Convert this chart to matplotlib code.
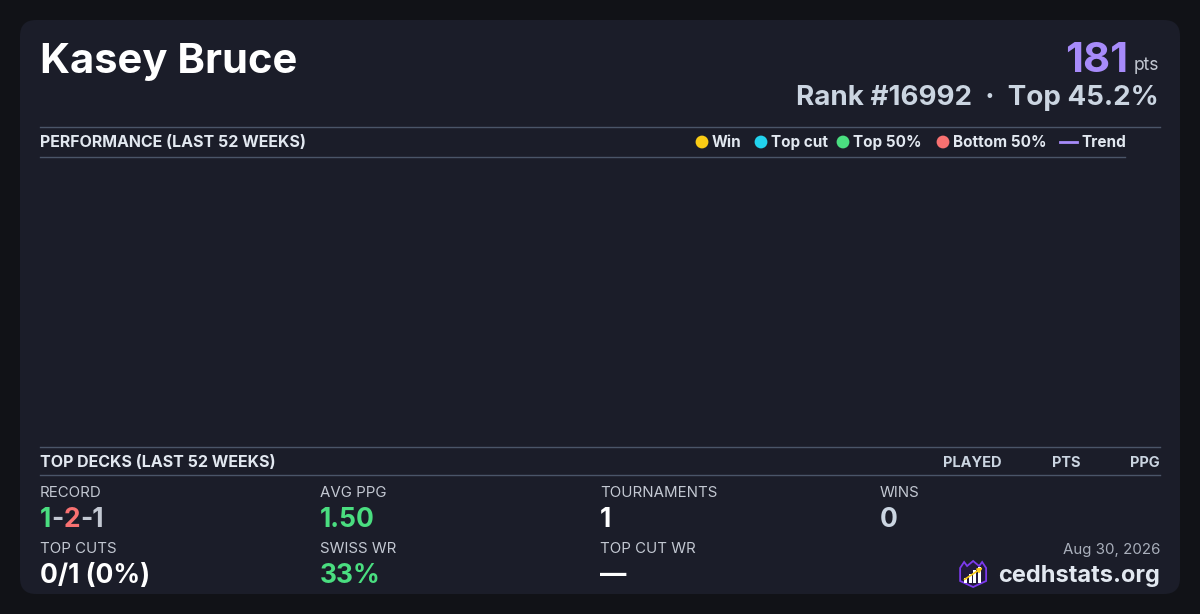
import matplotlib
matplotlib.use("Agg")
import matplotlib.pyplot as plt
from matplotlib.patches import FancyBboxPatch, Polygon, Rectangle

plt.rcParams['font.family'] = ['Inter', 'DejaVu Sans']

# --- data ---
player = "Kasey Bruce"
points = 181
rank = 16992
top_pct = 45.2
legend_labels = ["Win", "Top cut", "Top 50%", "Bottom 50%", "Trend"]
legend_colors = ["#facc15", "#22d3ee", "#4ade80", "#f87171", "#a78bfa"]
deck_columns = ["PLAYED", "PTS", "PPG"]
perf_weeks = []      # no tournaments plotted in the window
perf_points = []
record = [1, 2, 1]
stat_labels = ["RECORD", "AVG PPG", "TOURNAMENTS", "WINS",
               "TOP CUTS", "SWISS WR", "TOP CUT WR"]
stat_values = [None, "1.50", "1", "0", "0/1 (0%)", "33%", "\u2014"]
stat_colors = [None, "#4ade80", "#ffffff", "#cbd5e1", "#ffffff", "#4ade80", "#ffffff"]
date_str = "Aug 30, 2026"
site = "cedhstats.org"

BG = "#111217"
CARD = "#1b1d29"
RULE = "#4a5568"
LIGHT = "#e2e8f0"
MUTED = "#c3c8d2"

fig = plt.figure(figsize=(12, 6.14), dpi=100, facecolor=BG)
ax = fig.add_axes([0, 0, 1, 1])
ax.set_xlim(0, 1200)
ax.set_ylim(614, 0)
ax.set_axis_off()
ax.set_facecolor(BG)

card = FancyBboxPatch((20, 20), 1160, 574, boxstyle="round,pad=0,rounding_size=16",
                      fc=CARD, ec="none")
ax.add_patch(card)

fig.canvas.draw()
renderer = fig.canvas.get_renderer()


def width_px(t):
    bb = t.get_window_extent(renderer=renderer)
    return bb.width


def pieces(x, y, parts, size, weight="bold"):
    # draw consecutive coloured pieces of text left to right
    for s, c in parts:
        t = ax.text(x, y, s, color=c, fontsize=size, fontweight=weight,
                    ha="left", va="baseline")
        x += width_px(t)


# header
ax.text(40, 73, player, color="#ffffff", fontsize=30, fontweight="bold",
        ha="left", va="baseline")
pts = ax.text(1159, 70, "pts", color=MUTED, fontsize=12.5, ha="right", va="baseline")
ax.text(1159 - width_px(pts) - 5, 72, str(points), color="#a78bfa", fontsize=30,
        fontweight="bold", ha="right", va="baseline")
ax.text(1159, 105, f"Rank #{rank}  \u00b7  Top {top_pct}%", color="#cbd5e1",
        fontsize=20, fontweight="bold", ha="right", va="baseline")

# performance section
ax.plot([40, 1160], [126.5, 126.5], color=RULE, lw=1)
ax.text(40, 147, "PERFORMANCE (LAST 52 WEEKS)", color=LIGHT, fontsize=11.5,
        fontweight="bold", ha="left", va="baseline")
lx = [702, 761, 843, 943, 1060]
for i, (lab, col) in enumerate(zip(legend_labels, legend_colors)):
    if lab == "Trend":
        ax.plot([lx[i], lx[i] + 17], [142, 142], color=col, lw=2)
        tx = lx[i] + 21
    else:
        ax.scatter([lx[i]], [142], s=85, color=col, marker="o", edgecolors="none")
        tx = lx[i] + 10
    ax.text(tx, 147, lab, color=LIGHT, fontsize=11, fontweight="bold",
            ha="left", va="baseline")
ax.plot([40, 1125], [156.5, 156.5], color=RULE, lw=1)

perf = fig.add_axes([40 / 1200, 1 - 445 / 614, 1085 / 1200, 288 / 614])
perf.plot(perf_weeks, perf_points, color="#a78bfa")
perf.set_axis_off()

# top decks section
ax.plot([40, 1160], [446.5, 446.5], color=RULE, lw=1)
ax.text(40, 467, "TOP DECKS (LAST 52 WEEKS)", color=LIGHT, fontsize=11.5,
        fontweight="bold", ha="left", va="baseline")
for lab, cx in zip(deck_columns, [972, 1066, 1145]):
    ax.text(cx, 467, lab, color="#cbd5e1", fontsize=10.5, fontweight="bold",
            ha="center", va="baseline")
ax.plot([40, 1160], [474.5, 474.5], color=RULE, lw=1)

# stats grid
cols = [40, 320, 600, 880]
for i, lab in enumerate(stat_labels):
    x = cols[i % 4]
    row = i // 4
    ly = 497 + row * 56
    vy = 527 + row * 56
    ax.text(x, ly, lab, color=MUTED, fontsize=10.8, ha="left", va="baseline")
    if i == 0:
        pieces(x, vy, [(str(record[0]), "#4ade80"), ("-", MUTED),
                       (str(record[1]), "#f87171"), ("-" + str(record[2]), MUTED)], 19)
    else:
        ax.text(x, vy, stat_values[i], color=stat_colors[i], fontsize=19,
                fontweight="bold", ha="left", va="baseline")

# footer
ax.text(1160, 554, date_str, color="#a9afbb", fontsize=10.8, ha="right", va="baseline")
site_t = ax.text(1160, 582, site, color=LIGHT, fontsize=17, fontweight="bold",
                 ha="right", va="baseline")

# logo, placed left of the site name
right = 1160 - width_px(site_t) - 12
left = right - 26
mid = (left + right) / 2
shield = Polygon([(left, 568), (left + 4, 562), (left + 7, 566), (mid, 561),
                  (right - 7, 566), (right - 4, 562), (right, 568), (right, 581),
                  (mid, 587), (left, 581)],
                 closed=True, fc="#221a3c", ec="#7c3aed", lw=1.3)
ax.add_patch(shield)
for k, bh in enumerate([5, 9, 13, 16]):
    ax.add_patch(Rectangle((left + 4 + k * 4.5, 583 - bh), 3, bh, fc="#ffffff", ec="none"))
ax.annotate("", xy=(right - 1, 566), xytext=(left + 2, 581),
            arrowprops=dict(arrowstyle="-|>", color="#facc15", lw=1.2,
                            mutation_scale=7))

fig.savefig("out.png", dpi=100, facecolor=BG)
